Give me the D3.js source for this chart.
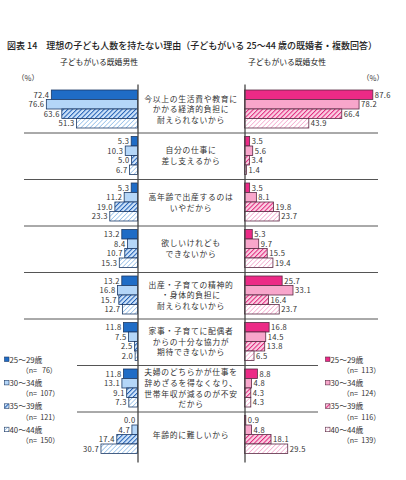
<!DOCTYPE html>
<html>
<head>
<meta charset="utf-8">
<script src="https://cdn.jsdelivr.net/npm/d3@7"></script>
<style>
  body { margin: 0; background: #fff; }
  svg { display: block; font-family: "Noto Sans CJK JP", "Noto Sans", sans-serif; }
  text { white-space: pre; }
</style>
</head>
<body>
<svg id="chart" width="406" height="480"></svg>
<script>
const reasons = [
	['今以上の生活費や教育に', 'かかる経済的負担に', '耐えられないから'],
	['自分の仕事に', '差し支えるから'],
	['高年齢で出産するのは', 'いやだから'],
	['欲しいけれども', 'できないから'],
	['出産・子育ての精神的', '・身体的負担に', '耐えられないから'],
	['家事・子育てに配偶者', 'からの十分な協力が', '期待できないから'],
	['夫婦のどちらかが仕事を', '辞めざるを得なくなり、', '世帯年収が減るのが不安', 'だから'],
	['年齢的に難しいから']
]
const ageGroups = ['25～29歳', '30～34歳', '35～39歳', '40～44歳']
const maleN = [76, 107, 121, 150]
const femaleN = [113, 124, 116, 139]

const male25 = [72.4, 5.3, 5.3, 13.2, 13.2, 11.8, 11.8, 0.0]
const male30 = [76.6, 10.3, 11.2, 8.4, 16.8, 7.5, 13.1, 4.7]
const male35 = [63.6, 5.0, 19.0, 10.7, 15.7, 2.5, 9.1, 17.4]
const male40 = [51.3, 6.7, 23.3, 15.3, 12.7, 2.0, 7.3, 30.7]

const female25 = [87.6, 3.5, 3.5, 5.3, 25.7, 16.8, 8.8, 0.9]
const female30 = [78.2, 5.6, 8.1, 9.7, 33.1, 14.5, 4.8, 4.8]
const female35 = [66.4, 3.4, 19.8, 15.5, 16.4, 13.8, 4.3, 18.1]
const female40 = [43.9, 1.4, 23.7, 19.4, 23.7, 6.5, 4.3, 29.5]

const maleSeries = [male25, male30, male35, male40]
const femaleSeries = [female25, female30, female35, female40]

const svg = d3.select('#chart')
const defs = svg.append('defs')

// hatch patterns
function hatch(id, bg, fg, w) {
	const p = defs.append('pattern')
		.attr('id', id)
		.attr('patternUnits', 'userSpaceOnUse')
		.attr('width', 3.2)
		.attr('height', 3.2)
		.attr('patternTransform', 'rotate(45)')
	p.append('rect').attr('width', 3.2).attr('height', 3.2).attr('fill', bg)
	p.append('line')
		.attr('x1', 0).attr('y1', 0).attr('x2', 0).attr('y2', 3.2)
		.attr('stroke', fg).attr('stroke-width', w)
}
hatch('m35', '#cfe4fa', '#1c5cb4', 2.0)
hatch('m40', '#ffffff', '#80b4e6', 1.3)
hatch('f35', '#fbd0e3', '#e0267c', 2.0)
hatch('f40', '#ffffff', '#f39ac5', 1.3)

const maleFill = ['#1f6cc6', '#b4d6f8', 'url(#m35)', 'url(#m40)']
const femaleFill = ['#ec2a86', '#f8a6cb', 'url(#f35)', 'url(#f40)']
const maleStroke = '#1c3a66'
const femaleStroke = '#5a2a44'

const maleAxisX = 137.5
const femaleAxisX = 244.5

const yScale = d3.scaleBand()
	.domain(d3.range(reasons.length))
	.range([86, 458])

const ySub = d3.scaleBand()
	.domain(ageGroups)
	.range([4, yScale.bandwidth() - 4.5])

const xMale = d3.scaleLinear()
	.domain([0, 100])
	.range([maleAxisX, maleAxisX - 119])

const xFemale = d3.scaleLinear()
	.domain([0, 100])
	.range([femaleAxisX, femaleAxisX + 146.5])

const fmt = d3.format('.1f')

// title
svg.append('text')
	.text('図表 14　理想の子ども人数を持たない理由（子どもがいる 25～44 歳の既婚者・複数回答）')
	.attr('x', 7)
	.attr('y', 49)
	.attr('font-size', 9.5)
	.attr('font-weight', 500)
	.attr('textLength', 370)
	.attr('lengthAdjust', 'spacingAndGlyphs')
	.attr('fill', '#222')

svg.append('text')
	.text('子どもがいる既婚男性')
	.attr('x', 99).attr('y', 65)
	.attr('text-anchor', 'middle')
	.attr('font-size', 7.8)
	.attr('fill', '#222')

svg.append('text')
	.text('子どもがいる既婚女性')
	.attr('x', 287).attr('y', 65)
	.attr('text-anchor', 'middle')
	.attr('font-size', 7.8)
	.attr('fill', '#222')

svg.append('text')
	.text('（%）')
	.attr('x', 17).attr('y', 81)
	.attr('font-size', 7.5)
	.attr('fill', '#333')

svg.append('text')
	.text('（%）')
	.attr('x', 362).attr('y', 81)
	.attr('font-size', 7.5)
	.attr('fill', '#333')

// separators between groups
const seps = d3.range(1, reasons.length)
svg.append('g').selectAll('line')
	.data(seps)
	.enter().append('line')
	.attr('x1', d => d >= 6 ? 77 : 24)
	.attr('x2', d => d >= 6 ? 318 : 378)
	.attr('y1', d => yScale(d) + 0.5)
	.attr('y2', d => yScale(d) + 0.5)
	.attr('stroke', '#555')
	.attr('stroke-width', 1)

// bars
function drawSide(series, fills, stroke, xs, isLeft) {
	const g = svg.append('g')
	series.forEach((vals, si) => {
		const sg = g.append('g')
		sg.selectAll('rect')
			.data(vals)
			.enter().append('rect')
			.attr('x', d => isLeft ? xs(d) : xs(0))
			.attr('y', (d, i) => yScale(i) + ySub(ageGroups[si]))
			.attr('width', d => Math.abs(xs(d) - xs(0)))
			.attr('height', ySub.bandwidth())
			.attr('fill', fills[si])
			.attr('stroke', stroke)
			.attr('stroke-width', 0.8)

		sg.selectAll('text')
			.data(vals)
			.enter().append('text')
			.text(d => fmt(d))
			.attr('x', d => isLeft ? xs(d) - 2 : xs(d) + 2)
			.attr('y', (d, i) => yScale(i) + ySub(ageGroups[si]) + ySub.bandwidth() / 2 + 2.8)
			.attr('text-anchor', isLeft ? 'end' : 'start')
			.attr('font-size', 7.6)
			.attr('letter-spacing', 0.3)
			.attr('fill', '#333')
	})
}
drawSide(maleSeries, maleFill, maleStroke, xMale, true)
drawSide(femaleSeries, femaleFill, femaleStroke, xFemale, false)

// vertical axis lines
const yAxisScale = d3.scaleLinear().domain([0, 1]).range([84, 462])
svg.append('g')
	.attr('transform', `translate(${maleAxisX}, 0)`)
	.call(d3.axisLeft(yAxisScale).tickValues([]).tickSizeOuter(0))
	.select('.domain').attr('stroke', '#444').attr('stroke-width', 1.3)
svg.append('g')
	.attr('transform', `translate(${femaleAxisX}, 0)`)
	.call(d3.axisRight(yAxisScale).tickValues([]).tickSizeOuter(0))
	.select('.domain').attr('stroke', '#444').attr('stroke-width', 1.3)

// middle labels
const lineH = 10.6
const labels = svg.append('g')
reasons.forEach((lines, i) => {
	const cy = yScale(i) + yScale.bandwidth() / 2
	const y0 = cy - (lines.length - 1) * lineH / 2 + 3
	labels.append('text')
		.attr('text-anchor', 'middle')
		.attr('font-size', 7.8)
		.attr('letter-spacing', 0.7)
		.attr('fill', '#333')
		.selectAll('tspan')
		.data(lines)
		.enter().append('tspan')
		.attr('x', (maleAxisX + femaleAxisX) / 2)
		.attr('y', (d, j) => y0 + j * lineH)
		.text(d => d)
})

// legends
function legend(x, ns, fills, stroke) {
	const lg = svg.append('g')
	ageGroups.forEach((a, i) => {
		const cy = 359.5 + i * 23.4
		lg.append('rect')
			.attr('x', x).attr('y', cy - 2.5)
			.attr('width', 4.5).attr('height', 4.5)
			.attr('fill', fills[i])
			.attr('stroke', stroke)
			.attr('stroke-width', 0.6)
		lg.append('text')
			.text(a)
			.attr('x', x + 5).attr('y', cy + 3)
			.attr('font-size', 7.8)
			.attr('fill', '#333')
		lg.append('text')
			.text('（n=' + d3.format('>5')(ns[i]) + '）')
			.attr('x', x + 17).attr('y', cy + 13.2)
			.attr('font-size', 7.2)
			.attr('fill', '#333')
	})
}
legend(4.5, maleN, maleFill, maleStroke)
legend(325.5, femaleN, femaleFill, femaleStroke)
</script>
</body>
</html>
